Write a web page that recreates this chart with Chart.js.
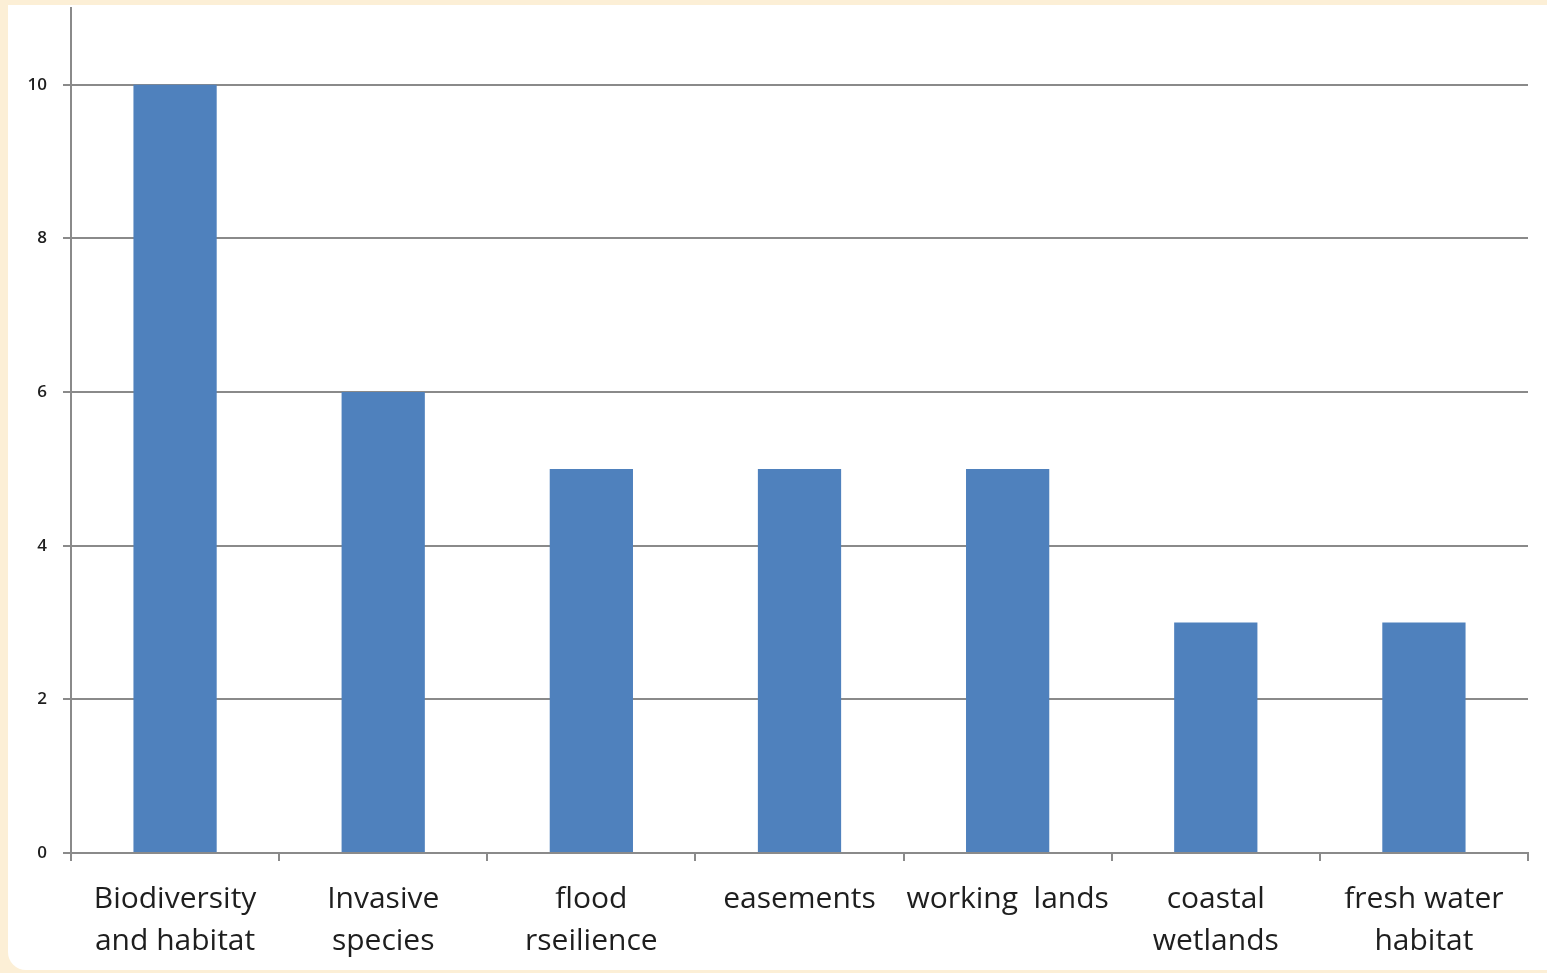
<!DOCTYPE html>
<html>
<head>
<meta charset="utf-8">
<script src="https://cdn.jsdelivr.net/npm/chart.js@4.4.1/dist/chart.umd.min.js"></script>
<style>
  html, body { margin: 0; padding: 0; background: #fcefd6; }
  #panel {
    position: absolute; left: 8px; top: 5px; right: 0; bottom: 3px;
    background: #ffffff; border-radius: 0 0 0 18px;
  }
  #wrap { position: absolute; left: 0; top: 0; width: 1547px; height: 973px; }
</style>
</head>
<body>
<div id="panel"></div>
<div id="wrap"><canvas id="chart"></canvas></div>
<script>
const categories = [
    ["Biodiversity", "and habitat"],
    ["Invasive", "species"],
    ["flood", "rseilience"],
    "easements",
    "working  lands",
    ["coastal", "wetlands"],
    ["fresh water", "habitat"],
];
const counts = [10, 6, 5, 5, 5, 3, 3];
const yTicks = [0, 2, 4, 6, 8, 10];

const gridGray = "#8a8a8a";

new Chart(document.getElementById("chart"), {
    type: "bar",
    data: {
        labels: categories,
        datasets: [
            {
                data: counts,
                backgroundColor: "#4f81bd",
                barPercentage: 0.4,
                categoryPercentage: 1,
            },
        ],
    },
    options: {
        responsive: true,
        maintainAspectRatio: false,
        animation: false,
        layout: { padding: { left: 0, top: 8, right: 19, bottom: 0 } },
        plugins: {
            legend: { display: false },
            tooltip: { enabled: false },
        },
        scales: {
            x: {
                grid: {
                    offset: true,
                    drawOnChartArea: false,
                    drawTicks: true,
                    tickLength: 8,
                    color: gridGray,
                    lineWidth: 2,
                },
                border: { color: gridGray, width: 2 },
                ticks: {
                    color: "#1e1e1e",
                    padding: 17,
                    maxRotation: 0,
                    autoSkip: false,
                    font: { family: "Open Sans", size: 30, lineHeight: 1.4 },
                },
                afterFit: (scale) => { scale.height = 120; },
            },
            y: {
                min: 0,
                max: 11,
                ticks: {
                    stepSize: 2,
                    color: "#1e1e1e",
                    padding: 16,
                    font: { family: "Open Sans", size: 17, weight: "600" },
                },
                afterBuildTicks: (scale) => {
                    scale.ticks = yTicks.map((v) => ({ value: v }));
                },
                grid: {
                    color: gridGray,
                    lineWidth: 2,
                    drawTicks: true,
                    tickLength: 8,
                },
                border: { color: gridGray, width: 2 },
                afterFit: (scale) => {
                    scale.width = 71;
                    scale.paddingTop = 0;
                    scale.paddingBottom = 0;
                },
            },
        },
    },
});
</script>
</body>
</html>
